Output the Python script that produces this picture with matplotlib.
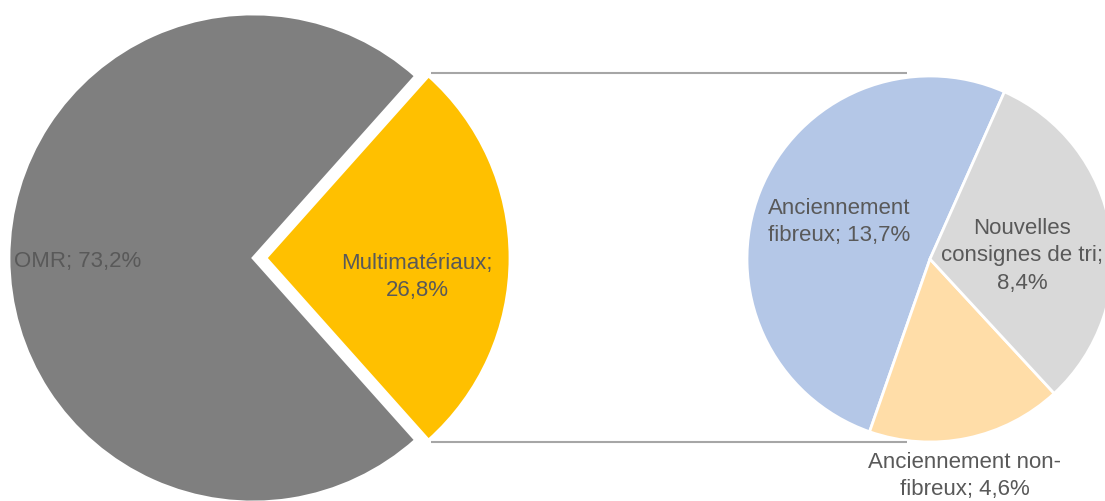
import numpy as np
import matplotlib.pyplot as plt

# Données : camembert principal
cats_main = ["OMR", "Multimatériaux"]
vals_main = [73.2, 26.8]
cols_main = ["#7f7f7f", "#ffc000"]

# Données : détail des multimatériaux
cats_sub = ["Anciennement fibreux", "Anciennement non-fibreux", "Nouvelles consignes de tri"]
vals_sub = [13.7, 4.6, 8.4]
cols_sub = ["#b4c7e7", "#ffdda8", "#d9d9d9"]

# Textes des étiquettes (avec retours à la ligne comme dans Excel)
lab_main = ["OMR; 73,2%", "Multimatériaux;\n26,8%"]
lab_sub = ["Anciennement\nfibreux; 13,7%", "Anciennement non-\nfibreux; 4,6%",
           "Nouvelles\nconsignes de tri;\n8,4%"]

W, H = 1105, 501
fig = plt.figure(figsize=(W / 100, H / 100), dpi=100)
ax = fig.add_axes([0, 0, 1, 1])

# angle de départ pour centrer la part "Multimatériaux" sur la droite
tot = sum(vals_main)
start_main = (360 - 360 * vals_main[0] / tot - 180 * vals_main[1] / tot) % 360

c_main = (253, 243)
r_main = 244
w_main, _ = ax.pie(vals_main, colors=cols_main, startangle=start_main, center=c_main,
                   radius=r_main, explode=[0, 13],
                   wedgeprops=dict(edgecolor="white", linewidth=2))

c_sub = (930, 242)
r_sub = 183
w_sub, _ = ax.pie(vals_sub, colors=cols_sub, startangle=66, center=c_sub,
                  radius=r_sub, wedgeprops=dict(edgecolor="white", linewidth=2))

ax.set_xlim(0, W)
ax.set_ylim(0, H)
ax.set_aspect("equal")
ax.axis("off")

# lignes de liaison entre la part jaune et le second camembert
yw = w_main[1]
for ang in (yw.theta2, yw.theta1):
    x0 = yw.center[0] + yw.r * np.cos(np.radians(ang))
    y0 = yw.center[1] + yw.r * np.sin(np.radians(ang))
    y0 = y0 + (3 if ang == yw.theta2 else -2)
    ax.plot([x0 + 2, 907], [y0, y0], color="#a6a6a6", lw=1.5, solid_capstyle="butt")

txt = dict(color="#595959", fontsize=16, family="Liberation Sans",
           ha="center", va="center", linespacing=1.4)
ax.text(78, H - 262, lab_main[0], **txt)
ax.text(417, H - 277, lab_main[1], **txt)
ax.text(839, H - 222, lab_sub[0], **txt)
ax.text(965, H - 476, lab_sub[1], **txt)
ax.text(1022, H - 256, lab_sub[2], **txt)

plt.savefig("out.png", dpi=100)
